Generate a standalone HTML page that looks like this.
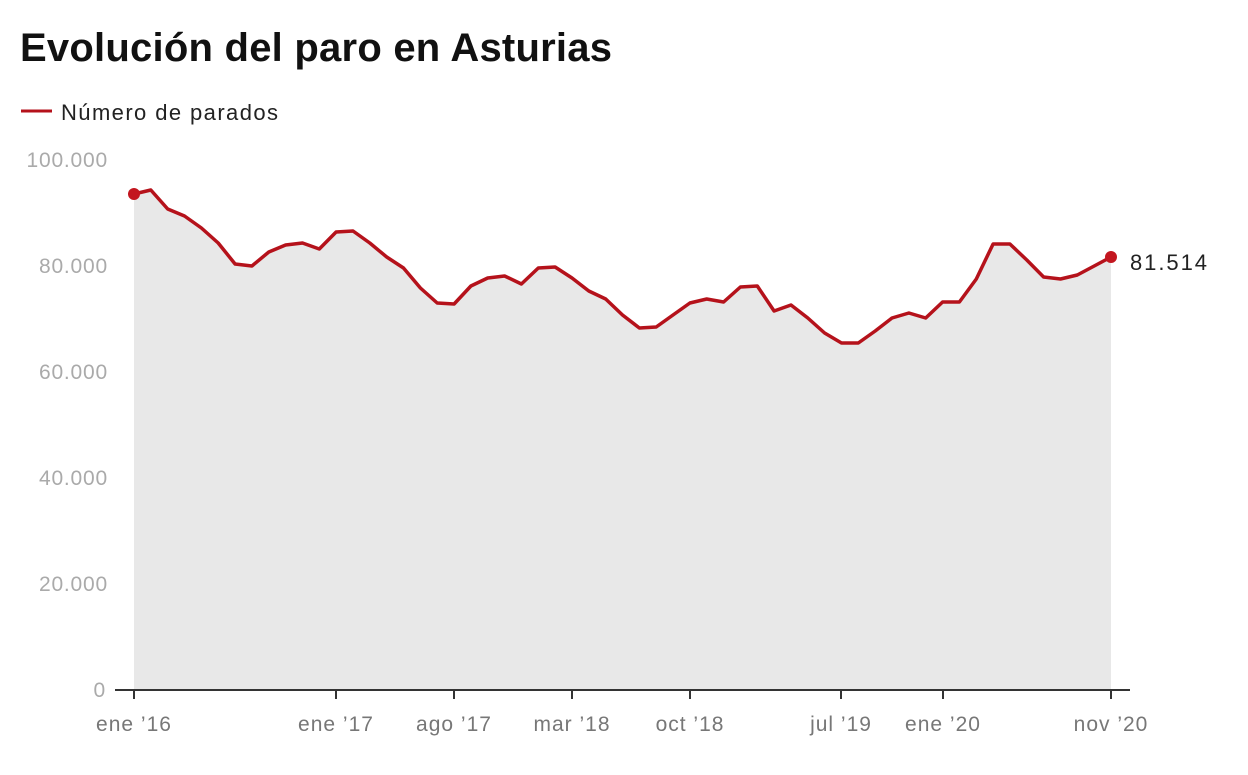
<!DOCTYPE html>
<html><head><meta charset="utf-8"><style>
body{margin:0;background:#fff;width:1248px;height:770px;overflow:hidden;font-family:"Liberation Sans",sans-serif}
</style></head><body>
<svg width="1248" height="770" xmlns="http://www.w3.org/2000/svg">
<text x="20" y="61" font-size="40" font-weight="bold" fill="#111" font-family="Liberation Sans, sans-serif" textLength="592">Evolución del paro en Asturias</text>
<line x1="21" y1="111" x2="52" y2="111" stroke="#b5121b" stroke-width="3"/>
<text x="61" y="120" font-size="22" fill="#222" textLength="217">Número de parados</text>
<g font-size="21" fill="#aaa" text-anchor="end" letter-spacing="0.8">
<text x="108" y="167">100.000</text>
<text x="108" y="273">80.000</text>
<text x="108" y="379">60.000</text>
<text x="108" y="485">40.000</text>
<text x="108" y="591">20.000</text>
<text x="106" y="697">0</text>
</g>
<path d="M134,690 L134,194 150.8,190 167.7,209 184.5,216 201.4,228 218.2,243 235.1,264 251.9,266 268.8,252 285.6,245 302.5,243 319.3,249 336.1,232 353,231 369.8,243 386.7,257 403.5,268 420.4,288 437.2,303 454.1,304 470.9,286 487.7,278 504.6,276 521.4,284 538.3,268 555.1,267 572,278 588.8,291 605.7,299 622.5,315 639.4,328 656.2,327 673,315 689.9,303 706.7,299 723.6,302 740.4,287 757.3,286 774.1,311 791,305 807.8,318 824.6,333 841.5,343 858.3,343 875.2,331 892,318 908.9,313 925.7,318 942.6,302 959.4,302 976.3,279 993.1,244 1009.9,244 1026.8,260 1043.6,277 1060.5,279 1077.3,275 1094.2,266 1111,257 L1111,690 Z" fill="#e8e8e8"/>
<polyline fill="none" stroke="#b5121b" stroke-width="3.5" stroke-linejoin="round" points="134,194 150.8,190 167.7,209 184.5,216 201.4,228 218.2,243 235.1,264 251.9,266 268.8,252 285.6,245 302.5,243 319.3,249 336.1,232 353,231 369.8,243 386.7,257 403.5,268 420.4,288 437.2,303 454.1,304 470.9,286 487.7,278 504.6,276 521.4,284 538.3,268 555.1,267 572,278 588.8,291 605.7,299 622.5,315 639.4,328 656.2,327 673,315 689.9,303 706.7,299 723.6,302 740.4,287 757.3,286 774.1,311 791,305 807.8,318 824.6,333 841.5,343 858.3,343 875.2,331 892,318 908.9,313 925.7,318 942.6,302 959.4,302 976.3,279 993.1,244 1009.9,244 1026.8,260 1043.6,277 1060.5,279 1077.3,275 1094.2,266 1111,257"/>
<circle cx="134" cy="194" r="6" fill="#c3161f"/>
<circle cx="1111" cy="257" r="6" fill="#c3161f"/>
<text x="1130" y="270" font-size="22" fill="#222" textLength="77">81.514</text>
<line x1="115" y1="690" x2="1130" y2="690" stroke="#333" stroke-width="2"/>
<g stroke="#333" stroke-width="2">
<line x1="134" y1="690" x2="134" y2="699"/><line x1="336" y1="690" x2="336" y2="699"/>
<line x1="454" y1="690" x2="454" y2="699"/><line x1="572" y1="690" x2="572" y2="699"/>
<line x1="690" y1="690" x2="690" y2="699"/><line x1="841" y1="690" x2="841" y2="699"/>
<line x1="943" y1="690" x2="943" y2="699"/><line x1="1111" y1="690" x2="1111" y2="699"/>
</g>
<g font-size="21" fill="#777" text-anchor="middle" letter-spacing="1">
<text x="134" y="731">ene ’16</text><text x="336" y="731">ene ’17</text>
<text x="454" y="731">ago ’17</text><text x="572" y="731">mar ’18</text>
<text x="690" y="731">oct ’18</text><text x="841" y="731">jul ’19</text>
<text x="943" y="731">ene ’20</text><text x="1111" y="731">nov ’20</text>
</g>
</svg>
</body></html>
